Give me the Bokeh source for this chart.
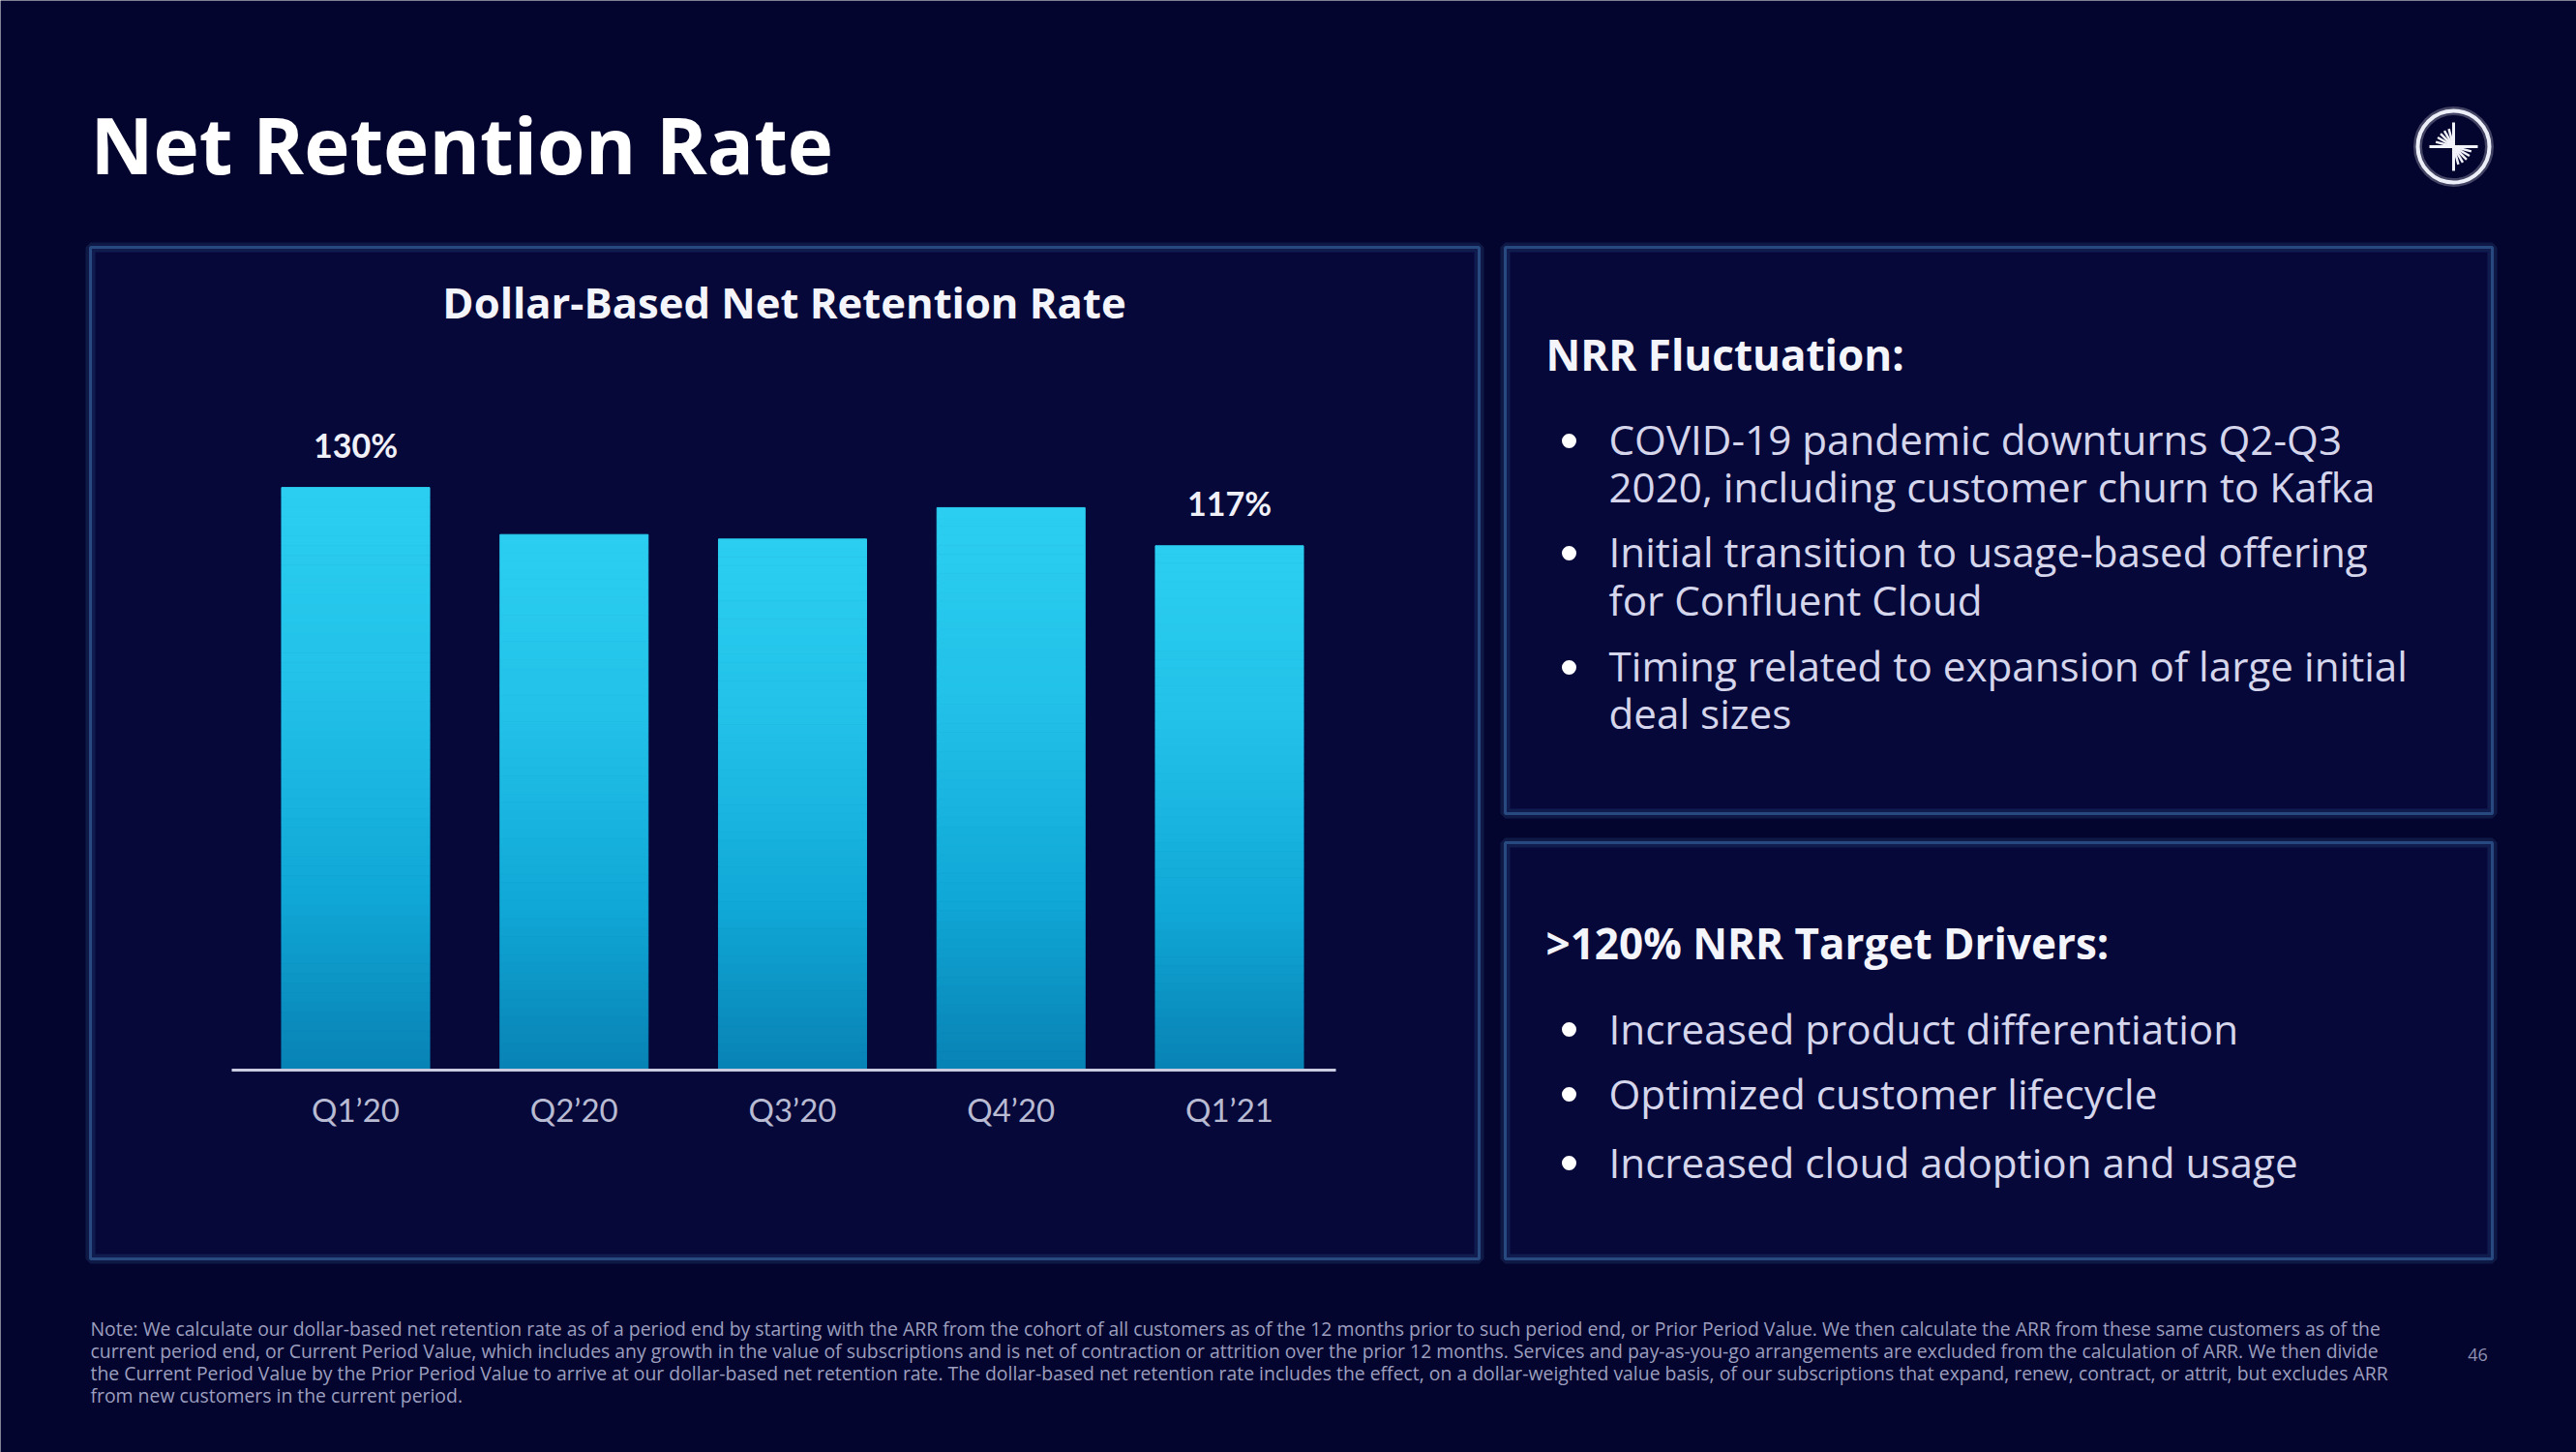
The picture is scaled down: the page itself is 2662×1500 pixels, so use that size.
import math
from bokeh.plotting import figure
from bokeh.models import Range1d, LinearAxis, FixedTicker
from bokeh.core.properties import value
from bokeh.embed import file_html
from bokeh.resources import INLINE

# ---------------- data ----------------
quarters = ["Q1’20", "Q2’20", "Q3’20", "Q4’20", "Q1’21"]
nrr = [130, 119.5, 118.5, 125.5, 117]
nrr_labels = ["130%", "", "", "", "117%"]

slide_title = "Net Retention Rate"
chart_title = "Dollar-Based Net Retention Rate"
fluct_heading = "NRR Fluctuation:"
fluct_lines = [
    "COVID-19 pandemic downturns Q2-Q3",
    "2020, including customer churn to Kafka",
    "Initial transition to usage-based offering",
    "for Confluent Cloud",
    "Timing related to expansion of large initial",
    "deal sizes",
]
fluct_bullet_rows = [0, 2, 4]
driver_heading = ">120% NRR Target Drivers:"
driver_lines = [
    "Increased product differentiation",
    "Optimized customer lifecycle",
    "Increased cloud adoption and usage",
]
note_lines = [
    "Note: We calculate our dollar-based net retention rate as of a period end by starting with the ARR from the cohort of all customers as of the 12 months prior to such period end, or Prior Period Value. We then calculate the ARR from these same customers as of the",
    "current period end, or Current Period Value, which includes any growth in the value of subscriptions and is net of contraction or attrition over the prior 12 months. Services and pay-as-you-go arrangements are excluded from the calculation of ARR. We then divide",
    "the Current Period Value by the Prior Period Value to arrive at our dollar-based net retention rate. The dollar-based net retention rate includes the effect, on a dollar-weighted value basis, of our subscriptions that expand, renew, contract, or attrit, but excludes ARR",
    "from new customers in the current period.",
]
page_number = "46"

# ---------------- style / layout ----------------
W, H = 2662, 1500
BG = "#04052f"
PANEL = "#06083a"
BORDER = "#28497f"
FONT = "Open Sans"
TICK_FONT = "Lato"

p = figure(width=W, height=H, x_range=Range1d(0, W), y_range=Range1d(H, 0),
           x_axis_location=None, y_axis_location=None, toolbar_location=None,
           output_backend="svg", min_border=0, background_fill_color=BG,
           border_fill_color=BG, outline_line_color=None)
p.grid.visible = False

# panels
panels = dict(left=[93, 1555, 1555], right=[1528, 2575, 2575],
              top=[255, 255, 870], bottom=[1300, 840, 1300])
p.quad(**panels, fill_color=PANEL, line_color=BORDER, line_alpha=0.3, line_width=10)
p.quad(**panels, fill_color=None, line_color=BORDER, line_width=3)

# slide title
p.text(x=[93], y=[148], text=[slide_title], text_font=value(FONT), text_font_size="80px",
       text_font_style="bold", text_color="#ffffff", text_baseline="middle")

# logo
LX, LY, LR = 2535, 151, 37
p.circle(x=[LX], y=[LY], radius=LR, fill_color=None, line_color="#ffffff", line_alpha=0.25, line_width=9)
p.circle(x=[LX], y=[LY], radius=LR, fill_color=None, line_color="#eceef8", line_width=4)
x0s, y0s, x1s, y1s, ws = [], [], [], [], []
for a, ln, w in [(0, 25, 3), (90, 25, 3), (180, 25, 3), (270, 25, 3)] + \
        [(a, 19, 2.5) for a in (105, 120, 135, 150, 165, 285, 300, 315, 330, 345)]:
    x0s.append(LX); y0s.append(LY)
    x1s.append(LX + ln * math.cos(math.radians(a)))
    y1s.append(LY - ln * math.sin(math.radians(a)))
    ws.append(w)
p.segment(x0=x0s, y0=y0s, x1=x1s, y1=y1s, line_color="#f2f3fa", line_width=ws)

# ---------------- bar chart (own scales) ----------------
X0, STEP = 367, 225.75          # px of first category centre, px per category
BASE_Y, PX_PER_PCT = 1105, 4.63  # px of 0 %, px per percentage point
q_start = -X0 / STEP
p.extra_x_ranges = {"q": Range1d(q_start, q_start + W / STEP)}
n_start = -(H - BASE_Y) / PX_PER_PCT
p.extra_y_ranges = {"nrr": Range1d(n_start, n_start + H / PX_PER_PCT)}

p.text(x=[810], y=[311], text=[chart_title], text_font=value(FONT), text_font_size="43.6px",
       text_font_style="bold", text_color="#f4f5fb", text_align="center", text_baseline="middle")

stops = [(0.0, (0x2b, 0xce, 0xf0)), (0.35, (0x22, 0xc1, 0xe8)),
         (0.7, (0x10, 0xa7, 0xd6)), (1.0, (0x08, 0x82, 0xb4))]


def grad(t):
    for (t0, c0), (t1, c1) in zip(stops[:-1], stops[1:]):
        if t <= t1:
            f = (t - t0) / (t1 - t0)
            return "#%02x%02x%02x" % tuple(int(round(a + (b - a) * f)) for a, b in zip(c0, c1))
    return "#%02x%02x%02x" % stops[-1][1]


N = 60
bx, bb, bt, bc = [], [], [], []
for i, v in enumerate(nrr):
    for j in range(N):
        bx.append(i)
        bb.append(v * j / N)
        bt.append(v * (j + 1) / N)
        bc.append(grad(1 - (j + 0.5) / N))
p.vbar(x=bx, bottom=bb, top=bt, width=0.678, fill_color=bc, line_color=bc, line_width=1,
       x_range_name="q", y_range_name="nrr")

p.text(x=list(range(len(nrr))), y=nrr, text=nrr_labels, x_range_name="q", y_range_name="nrr",
       y_offset=-44, text_font=value(TICK_FONT), text_font_size="34px", text_font_style="bold",
       text_color="#f0f1f8", text_align="center", text_baseline="middle")

ax = LinearAxis(x_range_name="q", y_range_name="nrr", fixed_location=0,
                ticker=FixedTicker(ticks=list(range(len(quarters)))),
                major_label_overrides={i: q for i, q in enumerate(quarters)},
                bounds=(-0.567, 4.487))
ax.axis_line_color = "#c9cce0"
ax.axis_line_width = 3
ax.major_tick_line_color = None
ax.minor_tick_line_color = None
ax.major_tick_in = 0
ax.major_tick_out = 0
ax.major_label_standoff = 20
ax.major_label_text_font = TICK_FONT
ax.major_label_text_font_size = "33px"
ax.major_label_text_color = "#b8bbd2"
p.add_layout(ax, "below")

# ---------------- right panels ----------------
TX, BX = 1662, 1621
p.text(x=[1597], y=[365], text=[fluct_heading], text_font=value(FONT), text_font_size="44px",
       text_font_style="bold", text_color="#f4f5fb", text_baseline="middle")
fl_y = [453, 502, 569, 619, 687, 736]
p.text(x=[TX] * len(fluct_lines), y=fl_y, text=fluct_lines, text_font=value(FONT),
       text_font_size="42.2px", text_color="#d5d6ec", text_baseline="middle")
p.scatter(x=[BX] * len(fluct_bullet_rows), y=[fl_y[r] + 2 for r in fluct_bullet_rows],
          size=15, marker="circle", fill_color="#ffffff", line_color=None)

p.text(x=[1597], y=[973], text=[driver_heading], text_font=value(FONT), text_font_size="44px",
       text_font_style="bold", text_color="#f4f5fb", text_baseline="middle")
dr_y = [1062, 1129, 1200]
p.text(x=[TX] * len(driver_lines), y=dr_y, text=driver_lines, text_font=value(FONT),
       text_font_size="42.2px", text_color="#d5d6ec", text_baseline="middle")
p.scatter(x=[BX] * len(dr_y), y=[y + 1 for y in dr_y], size=15, marker="circle",
          fill_color="#ffffff", line_color=None)

# ---------------- footnote ----------------
p.text(x=[93] * len(note_lines), y=[1372, 1395, 1418, 1441], text=note_lines,
       text_font=value(FONT), text_font_size="19.4px", text_color="#9c9fbe", text_baseline="middle")
p.text(x=[2560], y=[1399], text=[page_number], text_font=value(FONT), text_font_size="18px",
       text_color="#8e91b0", text_align="center", text_baseline="middle")

open("out.html", "w").write(file_html(p, INLINE))
